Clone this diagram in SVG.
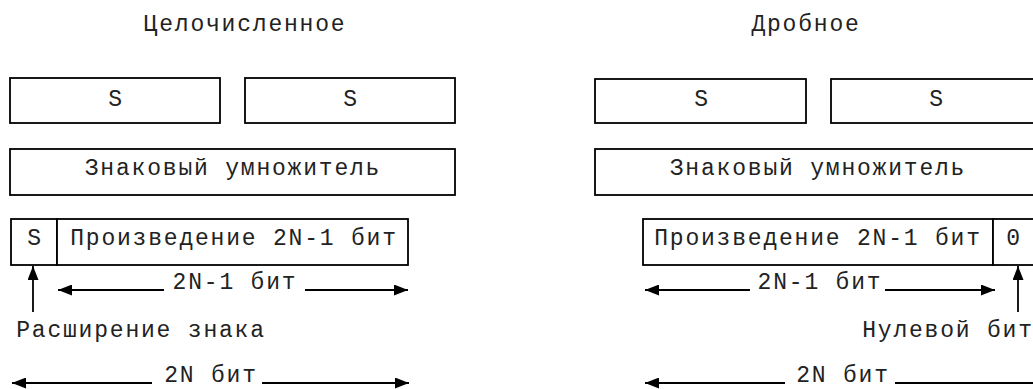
<svg xmlns="http://www.w3.org/2000/svg" width="1033" height="389" viewBox="0 0 1033 389">
<style>
.box{fill:#fff;stroke:#000;stroke-width:1.8}
.t{font-family:"Liberation Mono","Courier New",monospace;font-size:23px;letter-spacing:1.8px;fill:#222;text-anchor:middle}
.ln{stroke:#000;stroke-width:1.8;fill:none}
</style>
<defs>
<marker id="ah" viewBox="0 0 14 11" refX="14" refY="5.5" markerWidth="14" markerHeight="11" markerUnits="userSpaceOnUse" orient="auto-start-reverse">
<path d="M0,0 L14,5.5 L0,11 Z" fill="#000"/>
</marker>
</defs>
<rect width="1033" height="389" fill="#fff"/>
<text class="t" x="245" y="31">Целочисленное</text>
<text class="t" x="806" y="31">Дробное</text>
<g id="int-s1"><rect class="box" x="10" y="78" width="210" height="45"/><text class="t" x="116" y="106">S</text></g>
<g id="int-s2"><rect class="box" x="245" y="78" width="210" height="45"/><text class="t" x="351" y="106">S</text></g>
<g id="int-mul"><rect class="box" x="10" y="149" width="445" height="46"/><text class="t" x="233" y="175">Знаковый умножитель</text></g>
<g id="int-sbit"><rect class="box" x="11" y="219" width="46" height="46"/><text class="t" x="35" y="245">S</text></g>
<g id="int-prod"><rect class="box" x="57" y="219" width="351" height="46"/><text class="t" x="234" y="245">Произведение 2N-1 бит</text></g>
<g id="frac-s1"><rect class="box" x="595" y="79" width="211" height="44"/><text class="t" x="702" y="106">S</text></g>
<g id="frac-s2"><rect class="box" x="831" y="79" width="210" height="44"/><text class="t" x="937" y="106">S</text></g>
<g id="frac-mul"><rect class="box" x="595" y="149" width="445" height="46"/><text class="t" x="818" y="175">Знаковый умножитель</text></g>
<g id="frac-prod"><rect class="box" x="643" y="219" width="350" height="46"/><text class="t" x="818" y="245">Произведение 2N-1 бит</text></g>
<g id="frac-zero"><rect class="box" x="993" y="219" width="46" height="46"/><text class="t" x="1014" y="245">0</text></g>
<g id="labels">
<text class="t" x="235" y="289">2N-1 бит</text>
<text class="t" x="141" y="337">Расширение знака</text>
<text class="t" x="211" y="382">2N бит</text>
<text class="t" x="820" y="289">2N-1 бит</text>
<text class="t" x="948" y="337">Нулевой бит</text>
<text class="t" x="843" y="382">2N бит</text>
</g>
<g id="connectors">
<line class="ln" x1="33" y1="312" x2="33" y2="266" marker-end="url(#ah)"/>
<line class="ln" x1="164" y1="290" x2="58" y2="290" marker-end="url(#ah)"/>
<line class="ln" x1="305" y1="290" x2="408" y2="290" marker-end="url(#ah)"/>
<line class="ln" x1="152" y1="383" x2="12" y2="383" marker-end="url(#ah)"/>
<line class="ln" x1="262" y1="383" x2="409" y2="383" marker-end="url(#ah)"/>
<line class="ln" x1="1018" y1="312" x2="1018" y2="266" marker-end="url(#ah)"/>
<line class="ln" x1="750" y1="290" x2="645" y2="290" marker-end="url(#ah)"/>
<line class="ln" x1="885" y1="290" x2="995" y2="290" marker-end="url(#ah)"/>
<line class="ln" x1="785" y1="383" x2="645" y2="383" marker-end="url(#ah)"/>
<line class="ln" x1="895" y1="383" x2="1045" y2="383"/>
</g>
</svg>
